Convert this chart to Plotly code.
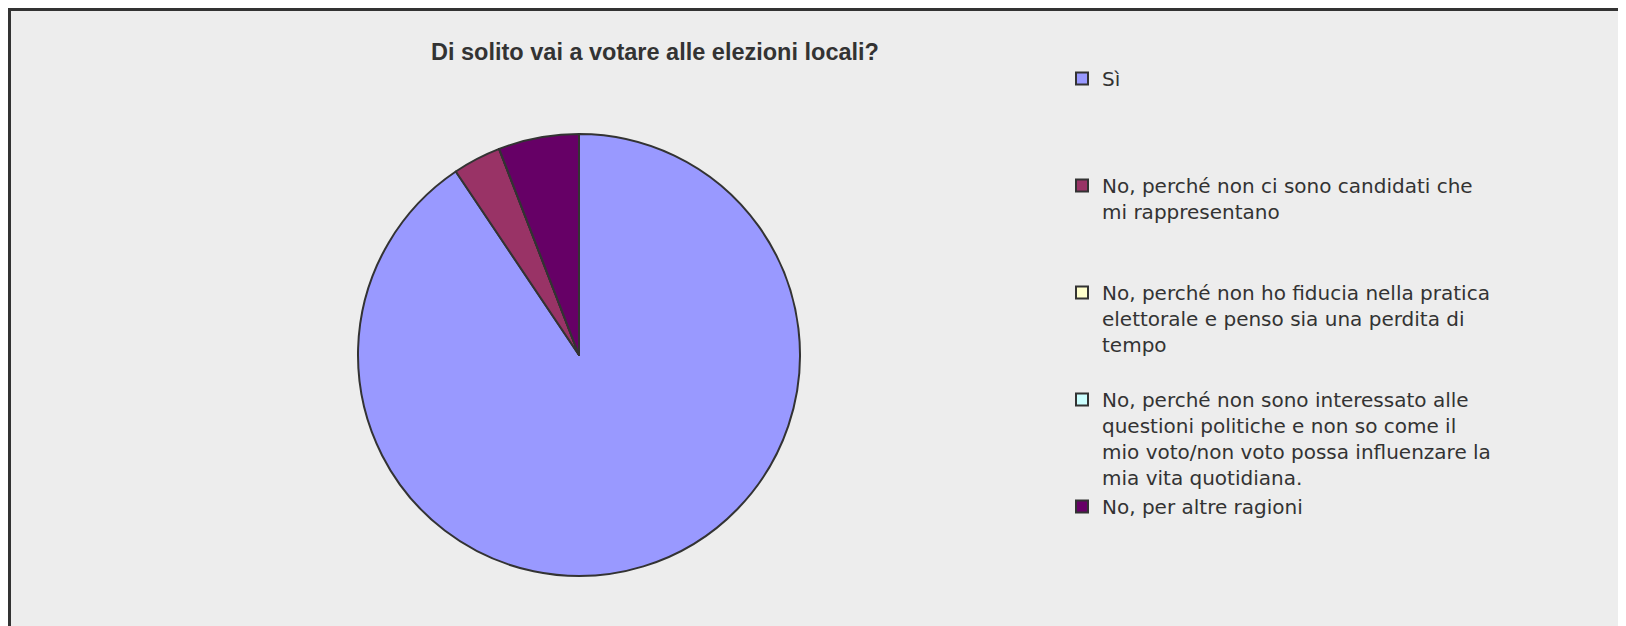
import plotly.graph_objects as go

TITLE = "Di solito vai a votare alle elezioni locali?"
LABELS = [
    "Sì",
    "No, perché non ci sono candidati che<br>mi rappresentano",
    "No, perché non ho fiducia nella pratica<br>elettorale e penso sia una perdita di<br>tempo",
    "No, perché non sono interessato alle<br>questioni politiche e non so come il<br>mio voto/non voto possa influenzare la<br>mia vita quotidiana.",
    "No, per altre ragioni",
]
VALUES = [77, 3, 0, 0, 5]
COLORS = ['#9999ff', '#993366', '#ffffcc', '#ccffff', '#660066']

W, H = 1626, 626
BG_COLOR = '#ededed'
TEXT_COLOR = '#333333'

# pad every legend entry to 4 lines so the entries are evenly spaced
legend_names = []
for lab in LABELS:
    n = lab.count('<br>') + 1
    legend_names.append(lab + '<br>&nbsp;' * (4 - n))

fig = go.Figure()
fig.add_trace(go.Pie(
    labels=legend_names, values=VALUES, sort=False, direction='clockwise', rotation=0,
    marker=dict(colors=COLORS, line=dict(color='#333333', width=2)),
    textinfo='none', hoverinfo='label+value+percent',
    domain=dict(x=[350 / W, 792 / W], y=[1 - 568 / H, 1 - 126 / H]),
))

# grey chart area with a dark frame (only top/left edges are visible)
fig.add_shape(type='rect', xref='paper', yref='paper', x0=1.5 / W, x1=1.02, y0=-0.02, y1=1 - 1.5 / H,
              fillcolor=BG_COLOR, line=dict(color='#333333', width=3), layer='below')

fig.update_layout(
    width=W, height=H, margin=dict(l=0, r=0, t=0, b=0),
    paper_bgcolor='white', plot_bgcolor='white',
    title=dict(text=TITLE, x=647 / W, xanchor='center', y=1 - 44 / H, yanchor='middle',
               font=dict(family='Liberation Sans, Arial', size=23.5, color=TEXT_COLOR, weight='bold')),
    legend=dict(x=1054 / W, xanchor='left', y=1 - 51 / H, yanchor='top', valign='top',
                font=dict(family='DejaVu Sans', size=20, color=TEXT_COLOR),
                bgcolor='rgba(0,0,0,0)', traceorder='normal'),
    font=dict(family='Liberation Sans, Arial', color=TEXT_COLOR),
)

fig.write_html("out.html")
